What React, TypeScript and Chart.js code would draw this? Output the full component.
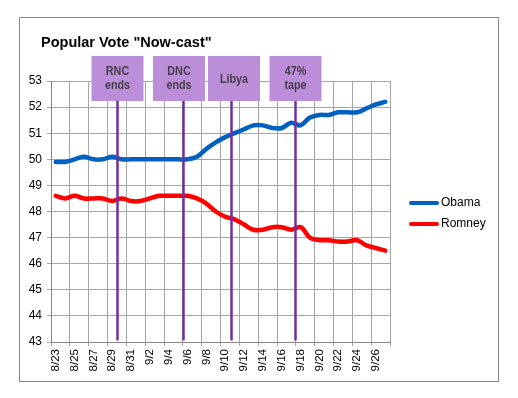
import React, { useEffect, useRef } from "react";
import { Chart, registerables } from "chart.js";

Chart.register(...registerables);

const TITLE = 'Popular Vote "Now-cast"';

const dates: string[] = [
  "8/23", "8/24", "8/25", "8/26", "8/27", "8/28", "8/29", "8/30", "8/31",
  "9/1", "9/2", "9/3", "9/4", "9/5", "9/6", "9/7", "9/8", "9/9", "9/10",
  "9/11", "9/12", "9/13", "9/14", "9/15", "9/16", "9/17", "9/18", "9/19",
  "9/20", "9/21", "9/22", "9/23", "9/24", "9/25", "9/26", "9/27",
];

const obama: number[] = [
  49.9, 49.9, 50.0, 50.1, 50.0, 50.0, 50.1, 50.0, 50.0,
  50.0, 50.0, 50.0, 50.0, 50.0, 50.0, 50.1, 50.4, 50.65, 50.85,
  51.0, 51.15, 51.3, 51.3, 51.2, 51.2, 51.4, 51.3, 51.6,
  51.7, 51.7, 51.8, 51.8, 51.8, 51.95, 52.1, 52.2,
];

const romney: number[] = [
  48.6, 48.5, 48.6, 48.5, 48.5, 48.5, 48.4, 48.5, 48.4,
  48.4, 48.5, 48.6, 48.6, 48.6, 48.6, 48.5, 48.3, 48.0, 47.8,
  47.7, 47.5, 47.3, 47.3, 47.4, 47.4, 47.3, 47.4, 47.0,
  46.9, 46.9, 46.85, 46.85, 46.9, 46.7, 46.6, 46.5,
];

const seriesNames: string[] = ["Obama", "Romney"];
const seriesColors: string[] = ["#0060C0", "#FF0000"];

// events: label lines and fractional category position
const eventLabels: string[][] = [["RNC", "ends"], ["DNC", "ends"], ["Libya"], ["47%", "tape"]];
const eventPositions: number[] = [6.5, 13.5, 18.6, 25.4];

const FONT = '"Liberation Sans", Arial, sans-serif';

const boxOffsets = [0, -4.5, 2.5, 0];

const overlayPlugin = {
  id: "overlay",
  beforeDraw(chart: any) {
    const c = chart.ctx;
    c.save();
    c.fillStyle = "#ffffff";
    c.fillRect(0, 0, chart.width, chart.height);
    c.restore();
  },
  afterDraw(chart: any) {
    const c = chart.ctx;
    const x = chart.scales.x;
    const y = chart.scales.y;
    c.save();
    // outer border
    c.strokeStyle = "#8a8a8a";
    c.lineWidth = 1;
    c.strokeRect(19.5, 17.5, 479, 364);
    // title
    c.fillStyle = "#000000";
    c.font = `bold 14.5px ${FONT}`;
    c.textAlign = "left";
    c.textBaseline = "alphabetic";
    c.fillText(TITLE, 41, 47);

    // events
    const boxW = 52;
    const boxTop = 56;
    const boxH = 45;
    eventPositions.forEach((pos, i) => {
      const px = Math.round(x.getPixelForValue(pos)) + 0.5;
      c.strokeStyle = "#7030A0";
      c.lineWidth = 2.5;
      c.beginPath();
      c.moveTo(px, y.bottom - 1.5);
      c.lineTo(px, boxTop + boxH);
      c.stroke();
      const bx = px + boxOffsets[i] - boxW / 2;
      c.fillStyle = "#BC8EDA";
      c.fillRect(bx, boxTop, boxW, boxH);
      c.fillStyle = "#444048";
      c.font = `bold 12.5px ${FONT}`;
      c.textAlign = "center";
      c.textBaseline = "middle";
      const lines = eventLabels[i];
      const cx = bx + boxW / 2;
      const drawSq = (t: string, ty: number) => {
        c.save();
        c.translate(cx, ty);
        c.scale(0.86, 1);
        c.fillText(t, 0, 0);
        c.restore();
      };
      if (lines.length === 1) {
        drawSq(lines[0], boxTop + 24);
      } else {
        drawSq(lines[0], boxTop + 16);
        drawSq(lines[1], boxTop + 30);
      }
    });

    // legend
    const legY = [203, 224];
    seriesNames.forEach((name, i) => {
      c.strokeStyle = seriesColors[i];
      c.lineWidth = 4;
      c.lineCap = "round";
      c.beginPath();
      c.moveTo(411, legY[i]);
      c.lineTo(437, legY[i]);
      c.stroke();
      c.fillStyle = "#000000";
      c.font = `12px ${FONT}`;
      c.textAlign = "left";
      c.textBaseline = "middle";
      c.fillText(name, 441, legY[i]);
    });
    c.restore();
  },
};

export default function App() {
  const ref = useRef<HTMLCanvasElement | null>(null);
  useEffect(() => {
    if (!ref.current) return;
    const gridGray = "#a6a6a6";
    const chart = new Chart(ref.current, {
      type: "line",
      data: {
        labels: dates,
        datasets: [
          {
            label: seriesNames[0],
            data: obama,
            borderColor: seriesColors[0],
            backgroundColor: seriesColors[0],
            borderWidth: 4.5,
            pointRadius: 0,
            tension: 0.35,
            borderCapStyle: "round",
            borderJoinStyle: "round",
          },
          {
            label: seriesNames[1],
            data: romney,
            borderColor: seriesColors[1],
            backgroundColor: seriesColors[1],
            borderWidth: 4.5,
            pointRadius: 0,
            tension: 0.35,
            borderCapStyle: "round",
            borderJoinStyle: "round",
          },
        ],
      },
      options: {
        responsive: false,
        animation: false,
        events: [],
        layout: { padding: { left: 20, right: 128, top: 81, bottom: 16 } },
        plugins: {
          legend: { display: false },
          title: { display: false },
          tooltip: { enabled: false },
        },
        scales: {
          x: {
            type: "category",
            offset: true,
            afterFit: (s: any) => {
              s.height = 40;
            },
            grid: {
              offset: true,
              color: (ctx: any) =>
                ctx.index === undefined || ctx.index % 2 === 0 ? gridGray : "rgba(0,0,0,0)",
              tickLength: 4,
            },
            border: { color: "#868686", width: 1 },
            ticks: {
              autoSkip: false,
              maxRotation: 90,
              minRotation: 90,
              padding: 3,
              color: "#000000",
              font: { family: FONT, size: 11.5 },
              callback: (_v: any, idx: number) => (idx % 2 === 0 ? dates[idx] : ""),
            },
          },
          y: {
            min: 43,
            max: 53,
            afterFit: (s: any) => {
              s.width = 31;
            },
            grid: { color: gridGray, tickLength: 4 },
            border: { color: "#868686", width: 1 },
            ticks: {
              stepSize: 1,
              padding: 5,
              color: "#000000",
              font: { family: FONT, size: 12 },
            },
          },
        },
      },
      plugins: [overlayPlugin],
    });
    return () => chart.destroy();
  }, []);
  return (
    <div style={{ position: "absolute", left: 0, top: 0, width: 518, height: 398 }}>
      <canvas ref={ref} width={518} height={398} style={{ width: 518, height: 398 }} />
    </div>
  );
}
